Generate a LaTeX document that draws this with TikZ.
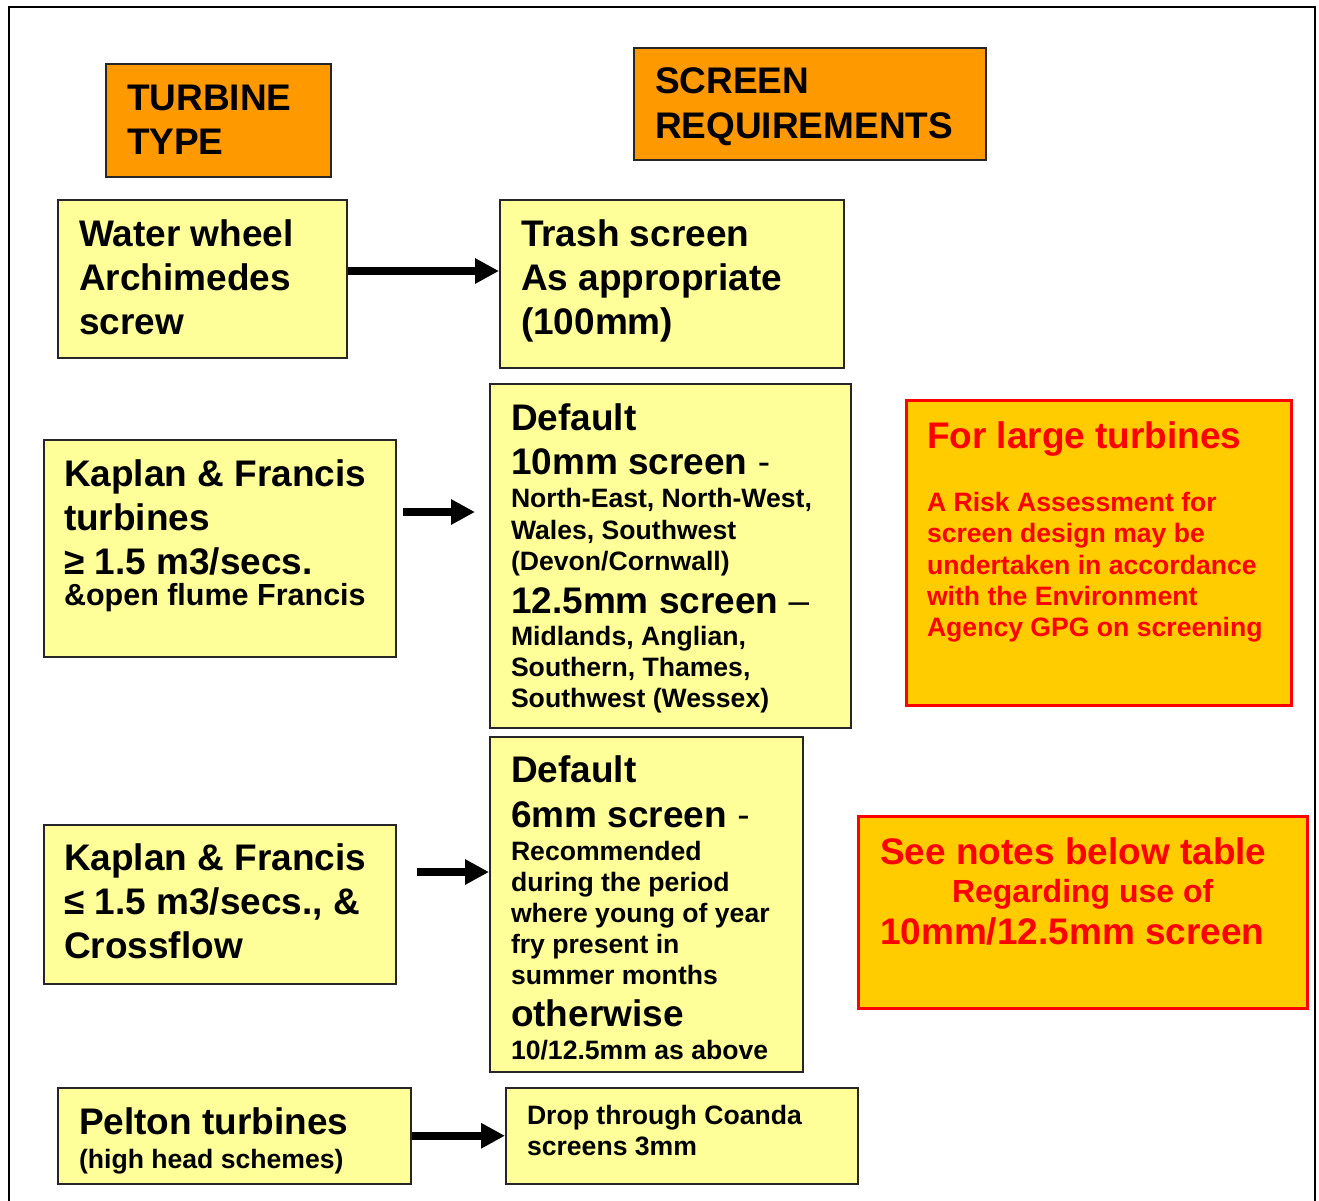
\documentclass[tikz,border=0pt]{standalone}
\usepackage{fontspec}
\setmainfont{Liberation Sans}
\usetikzlibrary{arrows.meta}
\definecolor{pyellow}{HTML}{FFFF99}
\definecolor{porange}{HTML}{FF9900}
\definecolor{pgold}{HTML}{FFCC00}
\definecolor{pred}{HTML}{FF0000}
\newcommand\Ln[2]{\vbox to #1{\vss\hbox{\smash{#2}}}}
\newcommand\Stk[1]{\vbox{\offinterlineskip #1}}
\newcommand\Fa{\fontsize{37}{44}\selectfont\bfseries}
\newcommand\Fb{\fontsize{26.6}{31}\selectfont\bfseries}
\newcommand\Fc{\fontsize{30.5}{36}\selectfont\bfseries}
\newcommand\Fd{\fontsize{32}{38}\selectfont\bfseries}
\newcommand\Rg{\mdseries}
\begin{document}
\begin{tikzpicture}[x=1pt,y=-1pt,
  ybox/.style={draw=black!85, line width=1.5pt, fill=pyellow, anchor=north west, inner sep=0pt},
  obox/.style={draw=black!85, line width=1.5pt, fill=porange, anchor=north west, inner sep=0pt},
  rbox/.style={draw=pred, line width=3pt, fill=pgold, anchor=north west, inner sep=0pt},
  txt/.style={anchor=north west, inner sep=0pt, outer sep=0pt},
  rtxt/.style={txt, text=pred},
  arr/.style={line width=8pt, -{Triangle[length=24pt,width=24pt]}}]
\useasboundingbox (0,0) rectangle (1319,1200);
\fill[white] (0,0) rectangle (1319,1200);
% outer frame
\draw[line width=2pt] (9,1205) -- (9,7) -- (1315,7) -- (1315,1205);

% headers
\node[obox, minimum width=225pt, minimum height=113pt] (tt) at (105,63) {};
\node[txt] (ttt) at (127,110) {\Stk{\Ln{0pt}{\Fa TURBINE}\Ln{44pt}{\Fa TYPE}}};
\node[obox, minimum width=352pt, minimum height=112pt] (sr) at (633,47) {};
\node[txt] (srt) at (655,93) {\Stk{\Ln{0pt}{\Fa SCREEN}\Ln{45pt}{\Fa REQUIREMENTS}}};

% row 1
\node[ybox, minimum width=289pt, minimum height=158pt] (ww) at (57,199) {};
\node[txt] (wwt) at (79,246) {\Stk{\Ln{0pt}{\Fa Water wheel}\Ln{44pt}{\Fa Archimedes}\Ln{44pt}{\Fa screw}}};
\node[ybox, minimum width=344pt, minimum height=168pt] (tr) at (499,199) {};
\node[txt] (trt) at (521,246) {\Stk{\Ln{0pt}{\Fa Trash screen}\Ln{44pt}{\Fa As appropriate}\Ln{44pt}{\Fa (100mm)}}};

% row 2
\node[ybox, minimum width=352pt, minimum height=217pt] (k1) at (43,439) {};
\node[txt] (k1t) at (64,486) {\Stk{\Ln{0pt}{\Fa Kaplan \& Francis}\Ln{44pt}{\Fa turbines}\Ln{44pt}{\Fa ≥ 1.5 m3/secs.}\Ln{31pt}{\Fc \&open flume Francis}}};
\node[ybox, minimum width=361pt, minimum height=344pt] (d1) at (489,383) {};
\node[txt] (d1t) at (511,430) {\Stk{%
  \Ln{0pt}{\Fa Default}%
  \Ln{44pt}{\Fa 10mm screen {\Rg -}}%
  \Ln{33.5pt}{\Fb North-East, North-West,}%
  \Ln{31.5pt}{\Fb Wales, Southwest}%
  \Ln{31.5pt}{\Fb (Devon/Cornwall)}%
  \Ln{42.5pt}{\Fa 12.5mm screen {\Rg –}}%
  \Ln{32.5pt}{\Fb Midlands, Anglian,}%
  \Ln{31pt}{\Fb Southern, Thames,}%
  \Ln{31pt}{\Fb Southwest (Wessex)}}};
\node[rbox, minimum width=385pt, minimum height=305pt] (rl) at (905,399) {};
\node[rtxt] (rlt) at (927,448) {\Stk{%
  \Ln{0pt}{\Fa For large turbines}%
  \Ln{63.5pt}{\Fb A Risk Assessment for}%
  \Ln{31pt}{\Fb screen design may be}%
  \Ln{32pt}{\Fb undertaken in accordance}%
  \Ln{31pt}{\Fb with the Environment}%
  \Ln{31pt}{\Fb Agency GPG on screening}}};

% row 3
\node[ybox, minimum width=352pt, minimum height=159pt] (k2) at (43,824) {};
\node[txt] (k2t) at (64,870) {\Stk{\Ln{0pt}{\Fa Kaplan \& Francis}\Ln{44pt}{\Fa ≤ 1.5 m3/secs., \&}\Ln{44pt}{\Fa Crossflow}}};
\node[ybox, minimum width=313pt, minimum height=335pt] (d2) at (489,736) {};
\node[txt] (d2t) at (511,782) {\Stk{%
  \Ln{0pt}{\Fa Default}%
  \Ln{45pt}{\Fa 6mm screen {\Rg -}}%
  \Ln{33.5pt}{\Fb Recommended}%
  \Ln{31pt}{\Fb during the period}%
  \Ln{31pt}{\Fb where young of year}%
  \Ln{31pt}{\Fb fry present in}%
  \Ln{31pt}{\Fb summer months}%
  \Ln{41.5pt}{\Fa otherwise}%
  \Ln{33.5pt}{\Fb 10/12.5mm as above}}};
\node[rbox, minimum width=449pt, minimum height=192pt] (sn) at (857,815) {};
\node[rtxt] (snt) at (880,864) {\Stk{%
  \Ln{0pt}{\Fa See notes below table}%
  \Ln{38.5pt}{\hspace*{72pt}\Fd Regarding use of}%
  \Ln{41.5pt}{\Fa 10mm/12.5mm screen}}};

% row 4
\node[ybox, minimum width=353pt, minimum height=96pt] (pel) at (57,1087) {};
\node[txt] (pelt) at (79,1134) {\Stk{\Ln{0pt}{\Fa Pelton turbines}\Ln{34.5pt}{\Fb (high head schemes)}}};
\node[ybox, minimum width=352pt, minimum height=96pt] (drop) at (505,1087) {};
\node[txt] (dropt) at (527,1124.5) {\Stk{\Ln{0pt}{\Fb Drop through Coanda}\Ln{31pt}{\Fb screens 3mm}}};

% arrows
\coordinate (r1) at (0,271);
\coordinate (a2s) at (403,512);
\coordinate (a2e) at (475,512);
\coordinate (a3s) at (417,872);
\coordinate (a3e) at (489,872);
\draw[arr] (ww.east |- r1) -- (tr.west |- r1);
\draw[arr] (a2s) -- (a2e);
\draw[arr] (a3s) -- (a3e);
\draw[arr] (pel.east) -- (drop.west);
\end{tikzpicture}
\end{document}
